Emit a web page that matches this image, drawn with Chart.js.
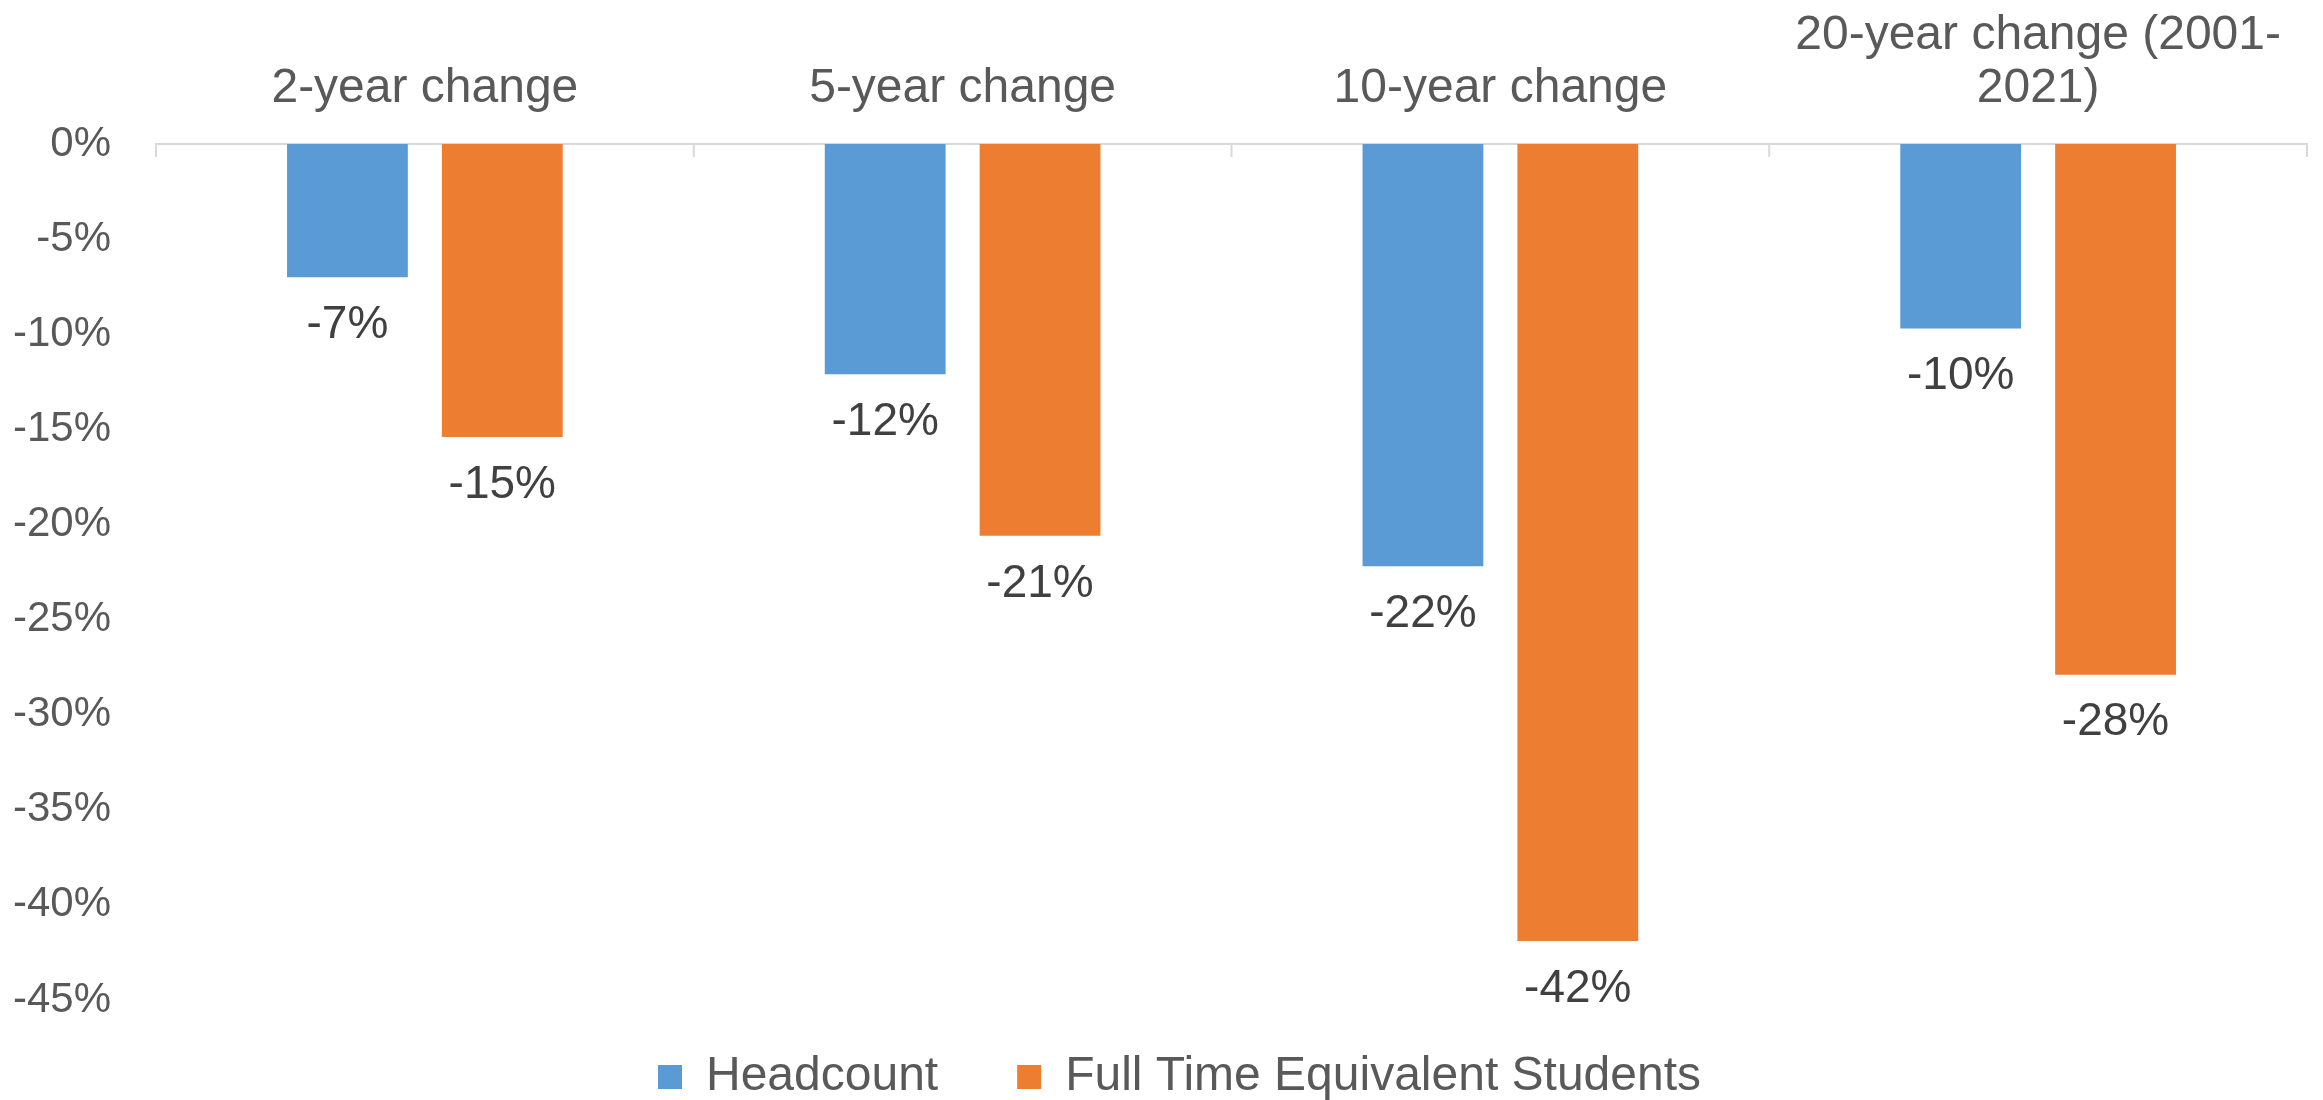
<!DOCTYPE html>
<html>
<head>
<meta charset="utf-8">
<script src="https://cdn.jsdelivr.net/npm/chart.js@4/dist/chart.umd.min.js"></script>
<style>
  html, body { margin: 0; padding: 0; background: #fff; }
  #wrap { width: 2323px; height: 1100px; }
</style>
</head>
<body>
<div id="wrap"><canvas id="myChart" width="2323" height="1100"></canvas></div>
<script>
// data (percent change)
var categories = ['2-year change', '5-year change', '10-year change', ['20-year change (2001-', '2021)']];
var headcount = [-7.0, -12.1, -22.2, -9.7];
var fteStudents = [-15.4, -20.6, -41.9, -27.9];
var seriesNames = ['Headcount', 'Full Time Equivalent Students'];

var FONT = '"Liberation Sans", Arial, sans-serif';

// value labels under each bar end
var barLabels = {
  id: 'barLabels',
  afterDatasetsDraw(chart) {
    var ctx = chart.ctx;
    ctx.save();
    ctx.font = '46px ' + FONT;
    ctx.fillStyle = '#404040';
    ctx.textAlign = 'center';
    ctx.textBaseline = 'middle';
    chart.data.datasets.forEach(function(ds, i) {
      chart.getDatasetMeta(i).data.forEach(function(bar, j) {
        ctx.fillText(Math.round(ds.data[j]) + '%', bar.x, bar.y + 48);
      });
    });
    ctx.restore();
  }
};

// short category divider ticks hanging from the zero line
var catTicks = {
  id: 'catTicks',
  afterDraw(chart) {
    var xs = chart.scales.x, ctx = chart.ctx, top = chart.chartArea.top;
    var half = (xs.getPixelForValue(1) - xs.getPixelForValue(0)) / 2;
    ctx.save();
    ctx.strokeStyle = '#d9d9d9';
    ctx.lineWidth = 2;
    for (var i = 0; i <= categories.length; i++) {
      var x = xs.getPixelForValue(0) - half + i * half * 2;
      ctx.beginPath();
      ctx.moveTo(x, top);
      ctx.lineTo(x, top + 13);
      ctx.stroke();
    }
    ctx.restore();
  }
};

// nudge the legend: up so the wide item gap fits, right to undo the trailing padding
var legendLift = {
  id: 'legendLift',
  afterLayout(chart) {
    var lg = chart.legend;
    lg.top -= 26;
    lg.bottom -= 26;
    lg.left += 26;
    lg.right += 26;
  }
};

const ctx = document.getElementById('myChart');
chart = new Chart(ctx, {
  type: 'bar',
  data: {
    labels: categories,
    datasets: [{
      label: seriesNames[0],
      data: headcount,
      backgroundColor: '#5b9bd5',
      categoryPercentage: 0.576,
      barPercentage: 0.78
    }, {
      label: seriesNames[1],
      data: fteStudents,
      backgroundColor: '#ed7d31',
      categoryPercentage: 0.576,
      barPercentage: 0.78
    }]
  },
  options: {
    responsive: false,
    animation: false,
    layout: { padding: { left: 0, right: 16, top: 0, bottom: -37 } },
    scales: {
      x: {
        position: 'top',
        grid: { display: false, drawTicks: false },
        border: { display: true, color: '#d9d9d9', width: 2 },
        ticks: {
          padding: 29,
          autoSkip: false,
          maxRotation: 0,
          color: '#595959',
          font: { family: FONT, size: 48, lineHeight: 1.1 }
        },
        afterFit: function(s) { s.height = 144; }
      },
      y: {
        min: -45,
        max: 0,
        grid: { display: false, drawTicks: false },
        border: { display: false },
        ticks: {
          stepSize: 5,
          padding: 45,
          color: '#595959',
          font: { family: FONT, size: 42 },
          callback: function(v) { return v + '%'; }
        },
        afterFit: function(s) { s.width = 156; }
      }
    },
    plugins: {
      legend: {
        position: 'bottom',
        labels: {
          boxWidth: 24,
          boxHeight: 24,
          padding: 79,
          color: '#595959',
          font: { family: FONT, size: 48 }
        }
      },
      tooltip: { enabled: false }
    }
  },
  plugins: [barLabels, catTicks, legendLift]
});
</script>
</body>
</html>
